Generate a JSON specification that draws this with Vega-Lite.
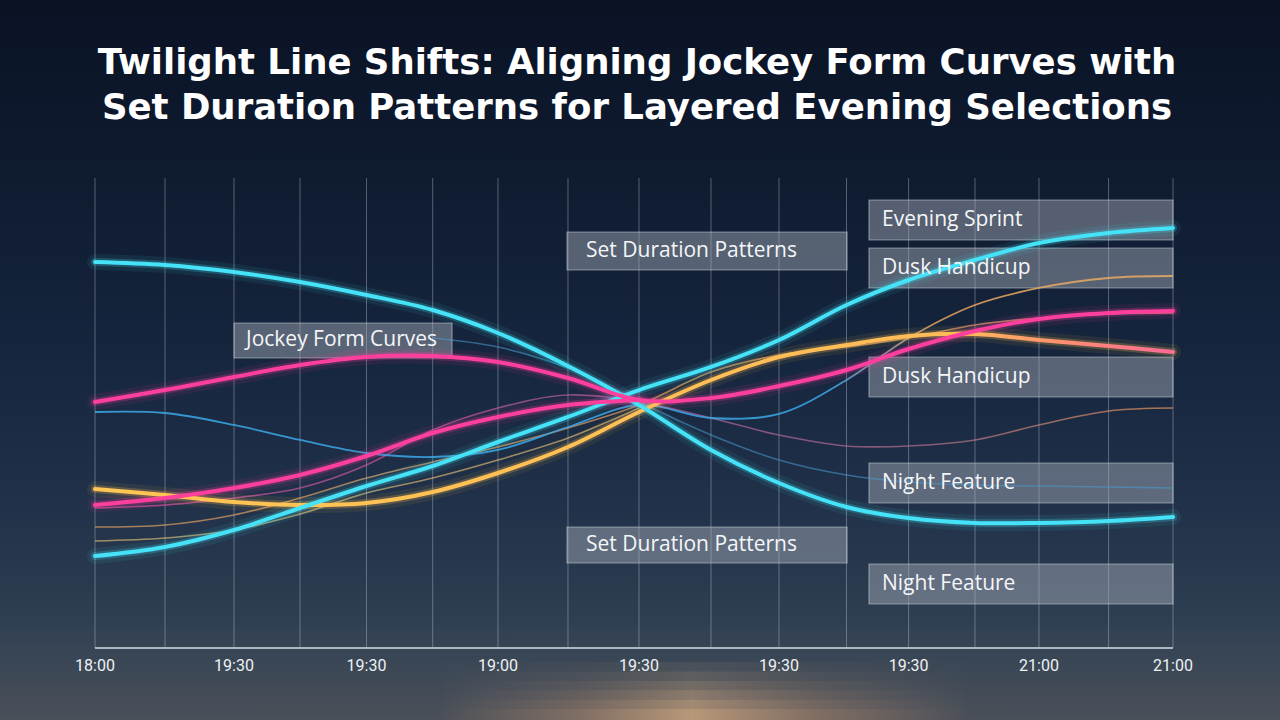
{
  "$schema": "https://vega.github.io/schema/vega-lite/v6.json",
  "width": 1280,
  "height": 720,
  "autosize": {"type": "none"},
  "padding": 0,
  "background": "#0b1428",
  "config": {"view": {"stroke": null}, "axis": {"disable": true}, "legend": {"disable": true}},
  "datasets": {
    "grid": [
      {"t": 0, "label": "18:00"}, {"t": 1.039, "label": ""}, {"t": 2.063, "label": "19:30"}, {"t": 3.043, "label": ""},
      {"t": 4.03, "label": "19:30"}, {"t": 5.012, "label": ""}, {"t": 5.981, "label": "19:00"}, {"t": 7.02, "label": ""},
      {"t": 8.074, "label": "19:30"}, {"t": 9.143, "label": ""}, {"t": 10.152, "label": "19:30"}, {"t": 11.154, "label": ""},
      {"t": 12.076, "label": "19:30"}, {"t": 13.061, "label": ""}, {"t": 14.011, "label": "21:00"}, {"t": 15.044, "label": ""},
      {"t": 16, "label": "21:00"}
    ],
    "glow": [
      {"top": -3.0, "a": 0.08}, {"top": -5.0, "a": 0.1}, {"top": -7.0, "a": 0.13}, {"top": -9.0, "a": 0.16}, {"top": -11.0, "a": 0.2}, {"top": -13.0, "a": 0.24}
    ],
    "lines": [
      {"series": "CyanA", "t": 0, "v": 82.13}, {"series": "CyanA", "t": 1.039, "v": 81.49}, {"series": "CyanA", "t": 2.063, "v": 80.0}, {"series": "CyanA", "t": 3.043, "v": 77.87}, {"series": "CyanA", "t": 4.03, "v": 75.11}, {"series": "CyanA", "t": 5.012, "v": 71.91}, {"series": "CyanA", "t": 5.981, "v": 67.02}, {"series": "CyanA", "t": 7.02, "v": 60.0}, {"series": "CyanA", "t": 8.074, "v": 51.7}, {"series": "CyanA", "t": 9.143, "v": 42.13}, {"series": "CyanA", "t": 10.152, "v": 35.11}, {"series": "CyanA", "t": 11.154, "v": 30.0}, {"series": "CyanA", "t": 12.076, "v": 27.66}, {"series": "CyanA", "t": 13.061, "v": 26.6}, {"series": "CyanA", "t": 14.011, "v": 26.6}, {"series": "CyanA", "t": 15.044, "v": 27.02}, {"series": "CyanA", "t": 16, "v": 27.87},
      {"series": "CyanB", "t": 0, "v": 19.57}, {"series": "CyanB", "t": 1.039, "v": 21.49}, {"series": "CyanB", "t": 2.063, "v": 25.11}, {"series": "CyanB", "t": 3.043, "v": 29.79}, {"series": "CyanB", "t": 4.03, "v": 34.47}, {"series": "CyanB", "t": 5.012, "v": 38.72}, {"series": "CyanB", "t": 5.981, "v": 43.83}, {"series": "CyanB", "t": 7.02, "v": 49.15}, {"series": "CyanB", "t": 8.074, "v": 54.89}, {"series": "CyanB", "t": 9.143, "v": 59.79}, {"series": "CyanB", "t": 10.152, "v": 65.53}, {"series": "CyanB", "t": 11.154, "v": 72.98}, {"series": "CyanB", "t": 12.076, "v": 78.3}, {"series": "CyanB", "t": 13.061, "v": 82.55}, {"series": "CyanB", "t": 14.011, "v": 86.17}, {"series": "CyanB", "t": 15.044, "v": 88.3}, {"series": "CyanB", "t": 16, "v": 89.36},
      {"series": "PinkA", "t": 0, "v": 52.34}, {"series": "PinkA", "t": 1.039, "v": 54.89}, {"series": "PinkA", "t": 2.063, "v": 57.66}, {"series": "PinkA", "t": 3.043, "v": 60.21}, {"series": "PinkA", "t": 4.03, "v": 61.91}, {"series": "PinkA", "t": 5.012, "v": 62.13}, {"series": "PinkA", "t": 5.981, "v": 60.85}, {"series": "PinkA", "t": 7.02, "v": 57.45}, {"series": "PinkA", "t": 8.074, "v": 52.77}, {"series": "PinkA", "t": 9.143, "v": 53.19}, {"series": "PinkA", "t": 10.152, "v": 55.74}, {"series": "PinkA", "t": 11.154, "v": 59.15}, {"series": "PinkA", "t": 12.076, "v": 63.62}, {"series": "PinkA", "t": 13.061, "v": 67.45}, {"series": "PinkA", "t": 14.011, "v": 70.0}, {"series": "PinkA", "t": 15.044, "v": 71.28}, {"series": "PinkA", "t": 16, "v": 71.7},
      {"series": "PinkB", "t": 0, "v": 30.43}, {"series": "PinkB", "t": 1.039, "v": 31.91}, {"series": "PinkB", "t": 2.063, "v": 34.04}, {"series": "PinkB", "t": 3.043, "v": 36.81}, {"series": "PinkB", "t": 4.03, "v": 40.85}, {"series": "PinkB", "t": 5.012, "v": 45.74}, {"series": "PinkB", "t": 5.981, "v": 49.15}, {"series": "PinkB", "t": 7.02, "v": 51.7}, {"series": "PinkB", "t": 8.074, "v": 52.77},
      {"series": "Orange", "t": 0, "v": 33.83}, {"series": "Orange", "t": 1.039, "v": 32.55}, {"series": "Orange", "t": 2.063, "v": 31.06}, {"series": "Orange", "t": 3.043, "v": 30.43}, {"series": "Orange", "t": 4.03, "v": 30.85}, {"series": "Orange", "t": 5.012, "v": 33.19}, {"series": "Orange", "t": 5.981, "v": 37.23}, {"series": "Orange", "t": 7.02, "v": 42.77}, {"series": "Orange", "t": 8.074, "v": 50.21}, {"series": "Orange", "t": 9.143, "v": 57.02}, {"series": "Orange", "t": 10.152, "v": 61.91}, {"series": "Orange", "t": 11.154, "v": 64.47}, {"series": "Orange", "t": 12.076, "v": 66.38}, {"series": "Orange", "t": 13.061, "v": 66.81}, {"series": "Orange", "t": 14.011, "v": 65.53}, {"series": "Orange", "t": 15.044, "v": 64.26}, {"series": "Orange", "t": 16, "v": 62.98},
      {"series": "BlueThin1", "t": 0, "v": 50.21}, {"series": "BlueThin1", "t": 1.039, "v": 50.0}, {"series": "BlueThin1", "t": 2.063, "v": 47.45}, {"series": "BlueThin1", "t": 3.043, "v": 44.26}, {"series": "BlueThin1", "t": 4.03, "v": 41.49}, {"series": "BlueThin1", "t": 5.012, "v": 40.64}, {"series": "BlueThin1", "t": 5.981, "v": 42.13}, {"series": "BlueThin1", "t": 7.02, "v": 47.02}, {"series": "BlueThin1", "t": 8.074, "v": 51.7}, {"series": "BlueThin1", "t": 9.143, "v": 48.94}, {"series": "BlueThin1", "t": 10.152, "v": 49.79}, {"series": "BlueThin1", "t": 11.154, "v": 57.02}, {"series": "BlueThin1", "t": 12.076, "v": 65.96}, {"series": "BlueThin1", "t": 13.061, "v": 72.98}, {"series": "BlueThin1", "t": 14.011, "v": 76.6}, {"series": "BlueThin1", "t": 15.044, "v": 78.72}, {"series": "BlueThin1", "t": 16, "v": 79.15},
      {"series": "BlueThin2", "t": 5.012, "v": 65.96}, {"series": "BlueThin2", "t": 5.981, "v": 64.04}, {"series": "BlueThin2", "t": 7.02, "v": 59.57}, {"series": "BlueThin2", "t": 8.074, "v": 52.34}, {"series": "BlueThin2", "t": 9.143, "v": 45.32}, {"series": "BlueThin2", "t": 10.152, "v": 40.0}, {"series": "BlueThin2", "t": 11.154, "v": 36.81}, {"series": "BlueThin2", "t": 12.076, "v": 35.32}, {"series": "BlueThin2", "t": 13.061, "v": 34.68}, {"series": "BlueThin2", "t": 14.011, "v": 34.47}, {"series": "BlueThin2", "t": 15.044, "v": 34.26}, {"series": "BlueThin2", "t": 16, "v": 34.04},
      {"series": "PinkThin", "t": 0, "v": 29.79}, {"series": "PinkThin", "t": 1.039, "v": 30.43}, {"series": "PinkThin", "t": 2.063, "v": 31.91}, {"series": "PinkThin", "t": 3.043, "v": 34.04}, {"series": "PinkThin", "t": 4.03, "v": 38.94}, {"series": "PinkThin", "t": 5.012, "v": 46.38}, {"series": "PinkThin", "t": 5.981, "v": 51.06}, {"series": "PinkThin", "t": 7.02, "v": 53.83}, {"series": "PinkThin", "t": 8.074, "v": 52.34}, {"series": "PinkThin", "t": 9.143, "v": 48.94}, {"series": "PinkThin", "t": 10.152, "v": 45.32}, {"series": "PinkThin", "t": 11.154, "v": 42.98}, {"series": "PinkThin", "t": 12.076, "v": 42.98}, {"series": "PinkThin", "t": 13.061, "v": 44.26}, {"series": "PinkThin", "t": 14.011, "v": 47.45}, {"series": "PinkThin", "t": 15.044, "v": 50.43}, {"series": "PinkThin", "t": 16, "v": 51.06},
      {"series": "OrangeThinA", "t": 0, "v": 25.74}, {"series": "OrangeThinA", "t": 1.039, "v": 26.17}, {"series": "OrangeThinA", "t": 2.063, "v": 28.3}, {"series": "OrangeThinA", "t": 3.043, "v": 31.91}, {"series": "OrangeThinA", "t": 4.03, "v": 36.17}, {"series": "OrangeThinA", "t": 5.012, "v": 39.57}, {"series": "OrangeThinA", "t": 5.981, "v": 42.77}, {"series": "OrangeThinA", "t": 7.02, "v": 46.81}, {"series": "OrangeThinA", "t": 8.074, "v": 51.7}, {"series": "OrangeThinA", "t": 9.143, "v": 58.72}, {"series": "OrangeThinA", "t": 10.152, "v": 62.34}, {"series": "OrangeThinA", "t": 11.154, "v": 64.04}, {"series": "OrangeThinA", "t": 12.076, "v": 65.96}, {"series": "OrangeThinA", "t": 13.061, "v": 68.72}, {"series": "OrangeThinA", "t": 14.011, "v": 70.21}, {"series": "OrangeThinA", "t": 15.044, "v": 71.06}, {"series": "OrangeThinA", "t": 16, "v": 71.28},
      {"series": "OrangeThinB", "t": 0, "v": 22.77}, {"series": "OrangeThinB", "t": 1.039, "v": 23.4}, {"series": "OrangeThinB", "t": 2.063, "v": 25.11}, {"series": "OrangeThinB", "t": 3.043, "v": 28.51}, {"series": "OrangeThinB", "t": 4.03, "v": 32.98}, {"series": "OrangeThinB", "t": 5.012, "v": 36.17}, {"series": "OrangeThinB", "t": 5.981, "v": 40.0}, {"series": "OrangeThinB", "t": 7.02, "v": 44.68}, {"series": "OrangeThinB", "t": 8.074, "v": 51.06}
    ],
    "notes": [
      {"label": "Jockey Form Curves", "x": 2.063, "x2": 5.299, "y": 69.15, "y2": 61.7, "tx": 2.241, "ym": 65.43},
      {"label": "Set Duration Patterns", "x": 7.006, "x2": 11.162, "y": 88.51, "y2": 80.43, "tx": 7.288, "ym": 84.47},
      {"label": "Set Duration Patterns", "x": 7.006, "x2": 11.162, "y": 25.74, "y2": 18.09, "tx": 7.288, "ym": 21.91},
      {"label": "Evening Sprint", "x": 11.488, "x2": 16, "y": 95.32, "y2": 86.81, "tx": 11.681, "ym": 91.06},
      {"label": "Dusk Handicup", "x": 11.488, "x2": 16, "y": 85.11, "y2": 76.6, "tx": 11.681, "ym": 80.85},
      {"label": "Dusk Handicup", "x": 11.488, "x2": 16, "y": 61.91, "y2": 53.4, "tx": 11.681, "ym": 57.66},
      {"label": "Night Feature", "x": 11.488, "x2": 16, "y": 39.36, "y2": 30.85, "tx": 11.681, "ym": 35.11},
      {"label": "Night Feature", "x": 11.488, "x2": 16, "y": 17.87, "y2": 9.36, "tx": 11.681, "ym": 13.62}
    ],
    "titles": [
      {"text": "Twilight Line Shifts: Aligning Jockey Form Curves with", "t": 8.045, "v": 124.4},
      {"text": "Set Duration Patterns for Layered Evening Selections", "t": 8.045, "v": 114.8}
    ]
  },
  "layer": [
    {
      "data": {"values": [{}]},
      "mark": {"type": "rect", "fill": {"gradient": "linear", "x1": 0, "y1": 0, "x2": 0, "y2": 1, "stops": [
        {"offset": 0, "color": "#0a1324"}, {"offset": 0.25, "color": "#0f1b31"}, {"offset": 0.5, "color": "#16263e"},
        {"offset": 0.7, "color": "#203149"}, {"offset": 0.85, "color": "#2d3e52"}, {"offset": 0.93, "color": "#3c4856"}, {"offset": 1, "color": "#4a4f58"}]}},
      "encoding": {}
    },
    {
      "data": {"name": "glow"},
      "mark": {"type": "rect", "fill": {"gradient": "linear", "x1": 0, "y1": 0, "x2": 1, "y2": 0, "stops": [
        {"offset": 0, "color": "rgba(200,150,115,0)"}, {"offset": 0.34, "color": "rgba(200,150,115,0)"}, {"offset": 0.45, "color": "rgba(215,160,118,0.5)"},
        {"offset": 0.54, "color": "rgba(248,195,140,1)"}, {"offset": 0.64, "color": "rgba(215,160,118,0.5)"},
        {"offset": 0.76, "color": "rgba(200,150,115,0)"}, {"offset": 1, "color": "rgba(200,150,115,0)"}]}},
      "encoding": {
        "x": {"datum": -1.41002, "type": "quantitative", "scale": {"domain": [-1.41002, 17.5881], "nice": false, "zero": false}},
        "x2": {"datum": 17.5881},
        "y": {"field": "top", "type": "quantitative", "scale": {"domain": [-15.319, 137.872], "nice": false, "zero": false}},
        "y2": {"datum": -15.319},
        "opacity": {"field": "a", "type": "quantitative", "scale": null}
      }
    },
    {
      "data": {"name": "grid"},
      "mark": {"type": "rule", "stroke": "#c9d3dc", "strokeOpacity": 0.38, "strokeWidth": 1},
      "encoding": {
        "x": {"field": "t", "type": "quantitative", "scale": {"domain": [-1.41002, 17.5881], "nice": false, "zero": false}},
        "y": {"datum": 0, "type": "quantitative", "scale": {"domain": [-15.319, 137.872], "nice": false, "zero": false}},
        "y2": {"datum": 100}
      }
    },
    {
      "data": {"values": [{}]},
      "mark": {"type": "rule", "stroke": "#c2cbd4", "strokeOpacity": 0.85, "strokeWidth": 2},
      "encoding": {
        "x": {"datum": 0, "type": "quantitative", "scale": {"domain": [-1.41002, 17.5881], "nice": false, "zero": false}},
        "x2": {"datum": 16},
        "y": {"datum": 0, "type": "quantitative", "scale": {"domain": [-15.319, 137.872], "nice": false, "zero": false}}
      }
    },
    {
      "data": {"name": "grid"},
      "transform": [{"filter": "datum.label != ''"}],
      "mark": {"type": "text", "font": "Roboto", "fontSize": 16, "fill": "#eef1f4", "align": "center", "baseline": "middle"},
      "encoding": {
        "x": {"field": "t", "type": "quantitative", "scale": {"domain": [-1.41002, 17.5881], "nice": false, "zero": false}},
        "y": {"datum": -3.83, "type": "quantitative", "scale": {"domain": [-15.319, 137.872], "nice": false, "zero": false}},
        "text": {"field": "label"}
      }
    },
    {
      "data": {"name": "notes"},
      "mark": {"type": "rect", "fill": "#aab2bc", "fillOpacity": 0.45, "stroke": "#d6dce2", "strokeOpacity": 0.5, "strokeWidth": 1.2},
      "encoding": {
        "x": {"field": "x", "type": "quantitative", "scale": {"domain": [-1.41002, 17.5881], "nice": false, "zero": false}},
        "x2": {"field": "x2"},
        "y": {"field": "y", "type": "quantitative", "scale": {"domain": [-15.319, 137.872], "nice": false, "zero": false}},
        "y2": {"field": "y2"}
      }
    },
    {
      "data": {"name": "lines"},
      "transform": [{"filter": "datum.series == 'BlueThin2'"}],
      "mark": {"type": "line", "interpolate": "catmull-rom", "stroke": "#4a9ad0", "strokeWidth": 1.6, "strokeOpacity": 0.55},
      "encoding": {
        "x": {"field": "t", "type": "quantitative", "scale": {"domain": [-1.41002, 17.5881], "nice": false, "zero": false}},
        "y": {"field": "v", "type": "quantitative", "scale": {"domain": [-15.319, 137.872], "nice": false, "zero": false}}
      }
    },
    {
      "data": {"name": "lines"},
      "transform": [{"filter": "datum.series == 'OrangeThinA'"}],
      "mark": {"type": "line", "interpolate": "catmull-rom", "stroke": "#e0a064", "strokeWidth": 1.6, "strokeOpacity": 0.7},
      "encoding": {
        "x": {"field": "t", "type": "quantitative", "scale": {"domain": [-1.41002, 17.5881], "nice": false, "zero": false}},
        "y": {"field": "v", "type": "quantitative", "scale": {"domain": [-15.319, 137.872], "nice": false, "zero": false}}
      }
    },
    {
      "data": {"name": "lines"},
      "transform": [{"filter": "datum.series == 'OrangeThinB'"}],
      "mark": {"type": "line", "interpolate": "catmull-rom", "stroke": "#f2c878", "strokeWidth": 1.6, "strokeOpacity": 0.6},
      "encoding": {
        "x": {"field": "t", "type": "quantitative", "scale": {"domain": [-1.41002, 17.5881], "nice": false, "zero": false}},
        "y": {"field": "v", "type": "quantitative", "scale": {"domain": [-15.319, 137.872], "nice": false, "zero": false}}
      }
    },
    {
      "data": {"name": "lines"},
      "transform": [{"filter": "datum.series == 'PinkThin'"}],
      "mark": {"type": "line", "interpolate": "catmull-rom", "strokeWidth": 1.6, "strokeOpacity": 0.7,
        "stroke": {"gradient": "linear", "x1": 0, "y1": 0, "x2": 1, "y2": 0, "stops": [
          {"offset": 0, "color": "#d84fa0"}, {"offset": 0.55, "color": "#b0609e"}, {"offset": 0.78, "color": "#b0708a"}, {"offset": 1, "color": "#e8985a"}]}},
      "encoding": {
        "x": {"field": "t", "type": "quantitative", "scale": {"domain": [-1.41002, 17.5881], "nice": false, "zero": false}},
        "y": {"field": "v", "type": "quantitative", "scale": {"domain": [-15.319, 137.872], "nice": false, "zero": false}}
      }
    },
    {
      "data": {"name": "lines"},
      "transform": [{"filter": "datum.series == 'BlueThin1'"}],
      "mark": {"type": "line", "interpolate": "catmull-rom", "strokeWidth": 1.8, "strokeOpacity": 0.85,
        "stroke": {"gradient": "linear", "x1": 0, "y1": 0, "x2": 1, "y2": 0, "stops": [
          {"offset": 0, "color": "#3aa8e8"}, {"offset": 0.68, "color": "#3aa8e8"}, {"offset": 0.78, "color": "#e8a45c"}, {"offset": 1, "color": "#eaac66"}]}},
      "encoding": {
        "x": {"field": "t", "type": "quantitative", "scale": {"domain": [-1.41002, 17.5881], "nice": false, "zero": false}},
        "y": {"field": "v", "type": "quantitative", "scale": {"domain": [-15.319, 137.872], "nice": false, "zero": false}}
      }
    },
    {
      "data": {"name": "lines"},
      "transform": [{"filter": {"field": "series", "oneOf": ["CyanA", "CyanB", "PinkA", "PinkB", "Orange"]}}],
      "mark": {"type": "line", "interpolate": "catmull-rom", "strokeWidth": 16, "strokeOpacity": 0.08, "strokeCap": "round"},
      "encoding": {
        "x": {"field": "t", "type": "quantitative", "scale": {"domain": [-1.41002, 17.5881], "nice": false, "zero": false}},
        "y": {"field": "v", "type": "quantitative", "scale": {"domain": [-15.319, 137.872], "nice": false, "zero": false}},
        "color": {"field": "series", "type": "nominal", "scale": {"domain": ["CyanA", "CyanB", "PinkA", "PinkB", "Orange"], "range": ["#45e2f8", "#45e2f8", "#ff3f9e", "#ff3f9e", "#ffc04f"]}}
      }
    },
    {
      "data": {"name": "lines"},
      "transform": [{"filter": {"field": "series", "oneOf": ["CyanA", "CyanB", "PinkA", "PinkB", "Orange"]}}],
      "mark": {"type": "line", "interpolate": "catmull-rom", "strokeWidth": 8, "strokeOpacity": 0.22, "strokeCap": "round"},
      "encoding": {
        "x": {"field": "t", "type": "quantitative", "scale": {"domain": [-1.41002, 17.5881], "nice": false, "zero": false}},
        "y": {"field": "v", "type": "quantitative", "scale": {"domain": [-15.319, 137.872], "nice": false, "zero": false}},
        "color": {"field": "series", "type": "nominal", "scale": {"domain": ["CyanA", "CyanB", "PinkA", "PinkB", "Orange"], "range": ["#45e2f8", "#45e2f8", "#ff3f9e", "#ff3f9e", "#ffc04f"]}}
      }
    },
    {
      "data": {"name": "lines"},
      "transform": [{"filter": "datum.series == 'Orange'"}],
      "mark": {"type": "line", "interpolate": "catmull-rom", "strokeWidth": 4, "strokeCap": "round",
        "stroke": {"gradient": "linear", "x1": 0, "y1": 0, "x2": 1, "y2": 0, "stops": [
          {"offset": 0, "color": "#ffc653"}, {"offset": 0.8, "color": "#ffbb58"}, {"offset": 0.9, "color": "#ff8e72"}, {"offset": 1, "color": "#ff6a98"}]}},
      "encoding": {
        "x": {"field": "t", "type": "quantitative", "scale": {"domain": [-1.41002, 17.5881], "nice": false, "zero": false}},
        "y": {"field": "v", "type": "quantitative", "scale": {"domain": [-15.319, 137.872], "nice": false, "zero": false}}
      }
    },
    {
      "data": {"name": "lines"},
      "transform": [{"filter": {"field": "series", "oneOf": ["PinkA", "PinkB", "CyanA", "CyanB"]}}],
      "mark": {"type": "line", "interpolate": "catmull-rom", "strokeWidth": 4, "strokeCap": "round"},
      "encoding": {
        "x": {"field": "t", "type": "quantitative", "scale": {"domain": [-1.41002, 17.5881], "nice": false, "zero": false}},
        "y": {"field": "v", "type": "quantitative", "scale": {"domain": [-15.319, 137.872], "nice": false, "zero": false}},
        "color": {"field": "series", "type": "nominal", "scale": {"domain": ["CyanA", "CyanB", "PinkA", "PinkB", "Orange"], "range": ["#45e2f8", "#45e2f8", "#ff3f9e", "#ff3f9e", "#ffc04f"]}}
      }
    },
    {
      "data": {"name": "notes"},
      "mark": {"type": "text", "font": "Open Sans", "fontSize": 21, "fill": "#f4f6f8", "align": "left", "baseline": "middle"},
      "encoding": {
        "x": {"field": "tx", "type": "quantitative", "scale": {"domain": [-1.41002, 17.5881], "nice": false, "zero": false}},
        "y": {"field": "ym", "type": "quantitative", "scale": {"domain": [-15.319, 137.872], "nice": false, "zero": false}},
        "text": {"field": "label"}
      }
    },
    {
      "data": {"name": "titles"},
      "mark": {"type": "text", "font": "DejaVu Sans", "fontSize": 35.5, "fontWeight": 700, "fill": "#ffffff", "align": "center", "baseline": "middle"},
      "encoding": {
        "x": {"field": "t", "type": "quantitative", "scale": {"domain": [-1.41002, 17.5881], "nice": false, "zero": false}},
        "y": {"field": "v", "type": "quantitative", "scale": {"domain": [-15.319, 137.872], "nice": false, "zero": false}},
        "text": {"field": "text"}
      }
    }
  ]
}
